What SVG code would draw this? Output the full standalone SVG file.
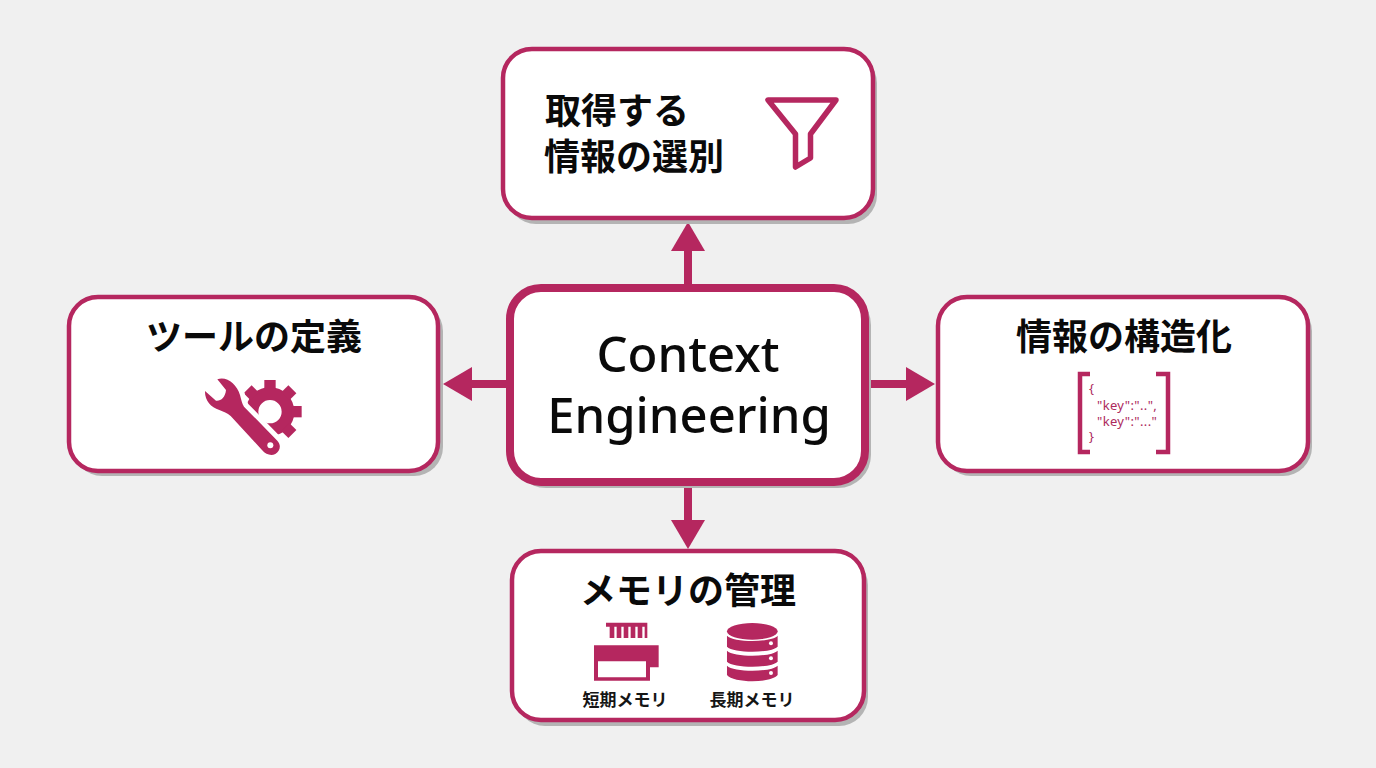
<svg xmlns="http://www.w3.org/2000/svg" width="1376" height="768" viewBox="0 0 1376 768">
<style>
.box{fill:#fff;stroke:#b5275f;stroke-width:4.5}
.sh{fill:#b4b4b4}
.t{font-family:"Noto Sans CJK JP","Noto Sans",sans-serif;font-weight:700;font-size:36px;fill:#0a0a0a;text-anchor:middle}
.s{font-family:"Noto Sans CJK JP","Noto Sans",sans-serif;font-weight:700;font-size:17px;fill:#151515;text-anchor:middle}
.j{font-family:"Noto Sans","Liberation Sans",sans-serif;font-size:13px;letter-spacing:.35px;fill:#ad2a5d}
.e{font-family:"Noto Sans","Liberation Sans",sans-serif;font-weight:500;font-size:49px;fill:#0a0a0a;text-anchor:middle}
.c{stroke:#b5275f;stroke-width:8;fill:none}
.i{fill:#b5275f}
</style>
<defs>
<marker id="a" viewBox="0 0 29 34" refX="1" refY="17" markerWidth="29" markerHeight="34" markerUnits="userSpaceOnUse" orient="auto"><path d="M0 0L29 17L0 34Z" fill="#b5275f"/></marker>
</defs>
<rect width="1376" height="768" fill="#f0f0f0"/>
<g id="connectors">
<path class="c" d="M688 287V250" marker-end="url(#a)"/>
<path class="c" d="M510 384H471" marker-end="url(#a)"/>
<path class="c" d="M865 384H907" marker-end="url(#a)"/>
<path class="c" d="M688 482V521" marker-end="url(#a)"/>
</g>
<g id="node-top">
<rect class="sh" x="507" y="54" width="370" height="170" rx="29"/>
<rect class="box" x="503" y="49" width="370" height="169" rx="29"/>
<text class="t" y="124"><tspan x="545" style="text-anchor:start">取得する</tspan><tspan x="634" y="170">情報の選別</tspan></text>
<path d="M768 100H836L810.5 134V158L795.5 167V134Z" fill="none" stroke="#b5275f" stroke-width="5.5" stroke-linejoin="round"/>
</g>
<g id="node-center">
<rect class="sh" x="513" y="292" width="358" height="196" rx="33"/>
<rect x="510" y="288" width="355" height="194" rx="31" fill="#fff" stroke="#b5275f" stroke-width="8"/>
<text class="e" y="372"><tspan x="688">Context</tspan><tspan x="689" y="433">Engineering</tspan></text>
</g>
<g id="node-left">
<rect class="sh" x="73" y="302" width="370" height="174" rx="29"/>
<rect class="box" x="69" y="297" width="369" height="174" rx="29"/>
<text class="t" x="254" y="350">ツールの定義</text>
<g transform="translate(190 360) scale(.3333)">
<g class="i" transform="translate(240 155)">
<circle r="54" fill="none" stroke="#b5275f" stroke-width="38"/>
<rect x="-17" y="-95" width="34" height="30"/>
<rect x="-17" y="-95" width="34" height="30" transform="rotate(45)"/>
<rect x="-17" y="-95" width="34" height="30" transform="rotate(90)"/>
<rect x="-17" y="-95" width="34" height="30" transform="rotate(135)"/>
<rect x="-17" y="-95" width="34" height="30" transform="rotate(180)"/>
<rect x="-17" y="-95" width="34" height="30" transform="rotate(225)"/>
<rect x="-17" y="-95" width="34" height="30" transform="rotate(270)"/>
<rect x="-17" y="-95" width="34" height="30" transform="rotate(315)"/>
</g>
<path d="M82 58C110 48 140 72 150 105C154 120 156 130 162 140L262 242C275 256 270 274 256 282C243 288 228 284 216 270L122 168C112 158 100 155 88 150C62 142 44 120 45 93L78 122C92 124 106 112 108 90Z" fill="#b5275f" stroke="#fff" stroke-width="30" stroke-linejoin="round" paint-order="stroke"/>
<circle cx="241" cy="256" r="9" fill="#fff"/>
</g>
</g>
<g id="node-right">
<rect class="sh" x="942" y="302" width="370" height="174" rx="29"/>
<rect class="box" x="938" y="297" width="370" height="174" rx="29"/>
<text class="t" x="1124" y="350">情報の構造化</text>
<path d="M1090 374H1080V452H1090M1156 374H1168V452H1156" fill="none" stroke="#b5275f" stroke-width="4.5"/>
<text class="j" x="1089" y="393">{</text>
<text class="j" x="1097" y="410">"key":"..",</text>
<text class="j" x="1097" y="426">"key":"..."</text>
<text class="j" x="1089" y="441">}</text>
</g>
<g id="node-bottom">
<rect class="sh" x="516" y="556" width="352" height="170" rx="29"/>
<rect class="box" x="512" y="551" width="352" height="169" rx="29"/>
<text class="t" x="688" y="604">メモリの管理</text>
<g transform="translate(570 610) scale(.3333)">
<path class="i" fill-rule="evenodd" d="M108 38H232V84H224V50H217V84H203V50H196V84H182V50H175V84H161V50H154V84H140V50H133V84H119V50H108ZM72 106H266V172H240V212H72ZM84 154V202H228V154Z"/>
<ellipse class="i" cx="547" cy="64" rx="76" ry="25"/>
<path class="i" d="M471 77C490 98 604 98 623 77V110C604 130 490 130 471 110Z"/>
<path class="i" d="M471 122C490 142 604 142 623 122V155C604 175 490 175 471 155Z"/>
<path class="i" d="M471 167C490 187 604 187 623 167V195C604 220 490 220 471 195Z"/>
<circle cx="603" cy="100" r="6" fill="#fff"/>
<circle cx="603" cy="145" r="6" fill="#fff"/>
<circle cx="603" cy="189" r="6" fill="#fff"/>
</g>
<text class="s" x="625" y="706">短期メモリ</text>
<text class="s" x="752" y="706">長期メモリ</text>
</g>
</svg>
